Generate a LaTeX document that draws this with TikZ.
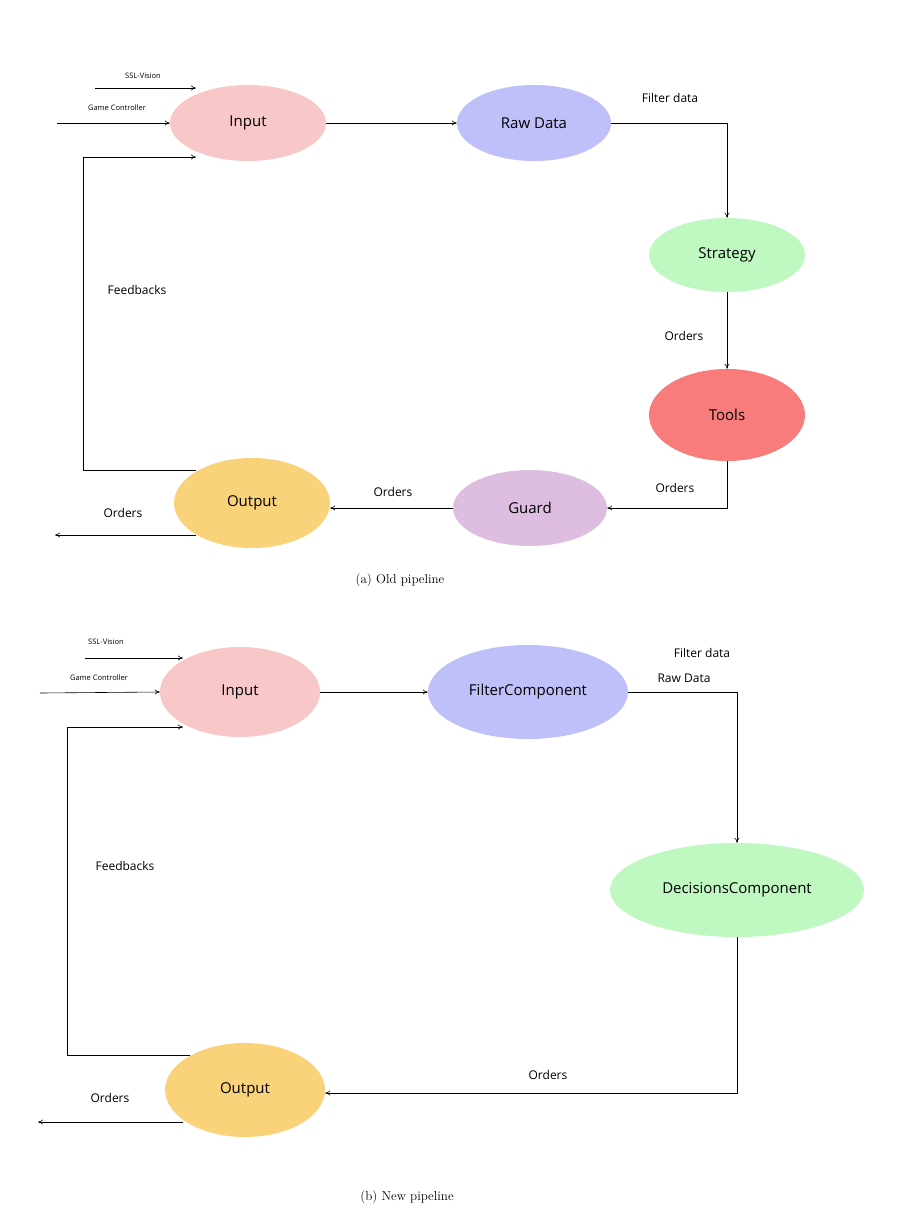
\documentclass[tikz,border=0pt]{standalone}
\usepackage{fontspec}
\usetikzlibrary{shapes.geometric,arrows.meta}
\newfontfamily\mysans{Open Sans}
\begin{document}
\begin{tikzpicture}[x=1pt,y=-1pt,
  el/.style={ellipse,draw=none,font=\mysans\fontsize{15}{18}\selectfont,inner sep=0pt},
  ar/.style={-{To[length=5pt,width=5pt]},line width=0.6pt},
  lb/.style={font=\mysans\fontsize{12}{14}\selectfont},
  sm/.style={font=\mysans\fontsize{7.5}{9}\selectfont},
  capt/.style={font=\fontsize{13}{16}\selectfont}]
\useasboundingbox (0,0) rectangle (898,1216);
\definecolor{cin}{HTML}{F8C8C8}\definecolor{craw}{HTML}{BFBFFA}
\definecolor{cstr}{HTML}{BFF8C0}\definecolor{ctool}{HTML}{F87C7C}
\definecolor{cgu}{HTML}{DDBDE0}\definecolor{cout}{HTML}{FAD27A}
% (a)
\node[el,fill=cin,minimum width=156,minimum height=76] (in1) at (248,123) {Input};
\node[el,fill=craw,minimum width=154,minimum height=76] (raw) at (534,123) {Raw Data};
\node[el,fill=cstr,minimum width=156,minimum height=74] (str) at (727,255) {Strategy};
\node[el,fill=ctool,minimum width=156,minimum height=92] (tool) at (727,415) {Tools};
\node[el,fill=cgu,minimum width=154,minimum height=76] (gu) at (530,508) {Guard};
\node[el,fill=cout,minimum width=156,minimum height=90] (out1) at (252,503) {Output};
\coordinate (s1) at (95,88); \coordinate (g1) at (57,123);
\draw[ar] (s1) -- (196,88);
\node[sm] (ls1) at (143,76) {SSL-Vision};
\draw[ar] (g1) -- (in1.west);
\node[sm] (lg1) at (117,108) {Game Controller};
\draw[ar] (in1) -- (raw);
\draw[ar] (raw.east) -- (727,123) -- (str.north);
\node[lb] (fd1) at (670,98) {Filter data};
\draw[ar] (str) -- (tool);
\node[lb] (o1) at (684,336) {Orders};
\draw[ar] (tool.south) -- (727,508) -- (gu.east);
\node[lb] (o2) at (675,488) {Orders};
\draw[ar] (gu) -- (out1.east |- gu);
\node[lb] (o3) at (393,492) {Orders};
\coordinate (e1) at (55,535);
\draw[ar] (196,535) -- (e1);
\node[lb] (o4) at (123,513) {Orders};
\draw[ar] (196,470) -- (83,470) -- (83,157) -- (196,157);
\node[lb] (fb1) at (137,290) {Feedbacks};
\node[capt] (c1) at (400,580) {(a) Old pipeline};
% (b)
\node[el,fill=cin,minimum width=160,minimum height=90] (in2) at (240,692) {Input};
\node[el,fill=craw,minimum width=200,minimum height=94] (flt) at (528,692) {FilterComponent};
\node[el,fill=cstr,minimum width=254,minimum height=94] (dec) at (737,890) {DecisionsComponent};
\node[el,fill=cout,minimum width=160,minimum height=94] (out2) at (245,1090) {Output};
\coordinate (s2) at (85,658); \coordinate (g2) at (40,693);
\draw[ar] (s2) -- (183,658);
\node[sm] (ls2) at (106,642) {SSL-Vision};
\draw[ar] (g2) -- (in2.west);
\node[sm] (lg2) at (99,678) {Game Controller};
\draw[ar] (in2) -- (flt);
\draw[ar] (flt.east) -- (737,692) -- (dec.north);
\node[lb] (fd2) at (702,653) {Filter data};
\node[lb] (rd2) at (684,678) {Raw Data};
\draw[ar] (dec.south) -- (737,1093) -- (out2.east |- 0,1093);
\node[lb] (o5) at (548,1075) {Orders};
\coordinate (e2) at (38,1122);
\draw[ar] (183,1122) -- (e2);
\node[lb] (o6) at (110,1098) {Orders};
\draw[ar] (190,1055) -- (67,1055) -- (67,727) -- (183,727);
\node[lb] (fb2) at (125,866) {Feedbacks};
\node[capt] (c2) at (407,1197) {(b) New pipeline};
\end{tikzpicture}
\end{document}
